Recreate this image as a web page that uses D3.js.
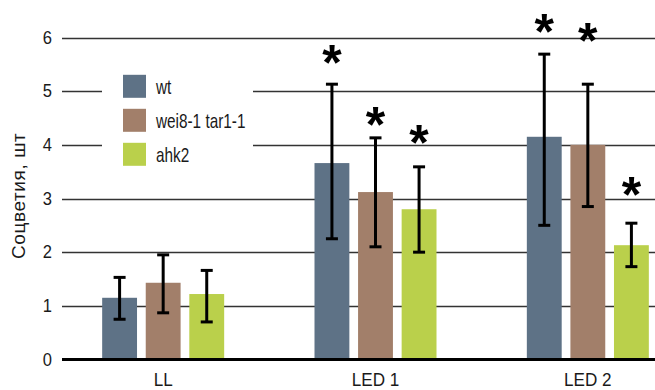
<!DOCTYPE html>
<html><head><meta charset="utf-8">
<script src="https://cdn.jsdelivr.net/npm/d3@7"></script>
<style>html,body{margin:0;padding:0;background:#fff;}svg{display:block;}</style>
</head><body>
<svg id="chart" width="655" height="390"></svg>
<script>
const categories = ["LL", "LED 1", "LED 2"];
const seriesNames = ["wt", "wei8-1 tar1-1", "ahk2"];
const seriesColors = ["#5e7286", "#a27f6a", "#bad04b"];
const wtValues = [1.15, 3.66, 4.15];
const weiValues = [1.43, 3.12, 4.00];
const ahkValues = [1.22, 2.80, 2.13];
const wtErrLow = [0.75, 2.25, 2.50];
const wtErrHigh = [1.53, 5.13, 5.69];
const weiErrLow = [0.87, 2.10, 2.85];
const weiErrHigh = [1.95, 4.13, 5.13];
const ahkErrLow = [0.70, 2.00, 1.73];
const ahkErrHigh = [1.66, 3.59, 2.54];
// significance markers: category, series, level (in y units)
const starCategory = ["LED 1", "LED 1", "LED 1", "LED 2", "LED 2", "LED 2"];
const starSeries = ["wt", "wei8-1 tar1-1", "ahk2", "wt", "wei8-1 tar1-1", "ahk2"];
const starLevel = [5.67, 4.52, 4.18, 6.26, 6.08, 3.22];
const yTicks = [0, 1, 2, 3, 4, 5, 6];
const yLabel = "Соцветия, шт";

const values = [wtValues, weiValues, ahkValues];
const lows = [wtErrLow, weiErrLow, ahkErrLow];
const highs = [wtErrHigh, weiErrHigh, ahkErrHigh];
const data = [];
categories.forEach((c, ci) => seriesNames.forEach((s, si) => {
  data.push({cat: c, ser: s, v: values[si][ci], lo: lows[si][ci], hi: highs[si][ci], color: seriesColors[si]});
}));

const svg = d3.select("#chart");
const font = "'Liberation Sans', Arial, sans-serif";
const x = d3.scaleBand().domain(categories).range([57, 694]);
const xi = d3.scaleBand().domain(seriesNames).range([-61, 61]).paddingInner(0.2);
const y = d3.scaleLinear().domain([0, 6]).range([359.5, 37.5]);
const color = d3.scaleOrdinal().domain(seriesNames).range(seriesColors);
const gridX0 = 62, gridX1 = 655;

// condensed text helper
function ctext(parent, px, py, str, size, sx, anchor) {
  const g = parent.append("g").attr("transform", `translate(${px},${py}) scale(${sx},1)`);
  g.append("text").attr("text-anchor", anchor || "start").attr("font-family", font)
    .attr("font-size", size).attr("fill", "#1a1a1a").text(str);
  return g;
}

// gridlines
svg.append("g").selectAll("line").data(yTicks.filter(t => t > 0)).join("line")
  .attr("x1", gridX0).attr("x2", gridX1)
  .attr("y1", d => Math.round(y(d)) + 0.5).attr("y2", d => Math.round(y(d)) + 0.5)
  .attr("stroke", "#333").attr("stroke-width", 1.3);

// tick labels
const tg = svg.append("g");
yTicks.forEach(t => ctext(tg, 52, y(t) + 6.3, t, 18, 0.92, "end"));

// y label
svg.append("text")
  .attr("transform", `translate(25,${y(3.05)}) rotate(-90)`)
  .attr("text-anchor", "middle").attr("font-family", font).attr("font-size", 19)
  .attr("letter-spacing", 0.6).attr("fill", "#1a1a1a").text(yLabel);

// legend box (hides gridlines)
const lg = svg.append("g");
lg.append("rect").attr("x", 102).attr("y", 58).attr("width", 151).attr("height", 114).attr("fill", "#fff");
seriesNames.forEach((s, i) => {
  const cy = 86.3 + i * 34;
  lg.append("rect").attr("x", 123).attr("y", cy - 11.5).attr("width", 23).attr("height", 23).attr("fill", color(s));
  ctext(lg, 156, cy + 7.3, s, 21, 0.73, "start");
});

// bars
svg.append("g").selectAll("rect").data(data).join("rect")
  .attr("x", d => x(d.cat) + x.bandwidth() / 2 + xi(d.ser))
  .attr("width", xi.bandwidth())
  .attr("y", d => y(d.v)).attr("height", d => y(0) - y(d.v))
  .attr("fill", d => d.color);

// axis line at 0
svg.append("line").attr("x1", gridX0).attr("x2", gridX1).attr("y1", y(0)).attr("y2", y(0))
  .attr("stroke", "#000").attr("stroke-width", 3);

// error bars
const cx = d => x(d.cat) + x.bandwidth() / 2 + xi(d.ser) + xi.bandwidth() / 2;
const eb = svg.append("g").attr("stroke", "#000").attr("stroke-width", 3);
eb.selectAll(".v").data(data).join("line").attr("x1", cx).attr("x2", cx)
  .attr("y1", d => y(d.lo)).attr("y2", d => y(d.hi));
eb.selectAll(".t").data(data).join("line").attr("x1", d => cx(d) - 6).attr("x2", d => cx(d) + 6)
  .attr("y1", d => y(d.hi)).attr("y2", d => y(d.hi));
eb.selectAll(".b").data(data).join("line").attr("x1", d => cx(d) - 6).attr("x2", d => cx(d) + 6)
  .attr("y1", d => y(d.lo)).attr("y2", d => y(d.lo));

// stars
svg.append("g").selectAll("text").data(starLevel.map((l, i) => ({cat: starCategory[i], ser: starSeries[i], l})))
  .join("text").attr("x", d => cx(d)).attr("y", d => y(d.l) + 25)
  .attr("text-anchor", "middle").attr("font-family", font)
  .attr("font-weight", "bold").attr("font-size", 50).attr("fill", "#000").text("*");

// category labels
const cg = svg.append("g");
categories.forEach(c => ctext(cg, x(c) + x.bandwidth() / 2, 385.5, c, 19, 0.9, "middle"));
</script>
</body></html>
